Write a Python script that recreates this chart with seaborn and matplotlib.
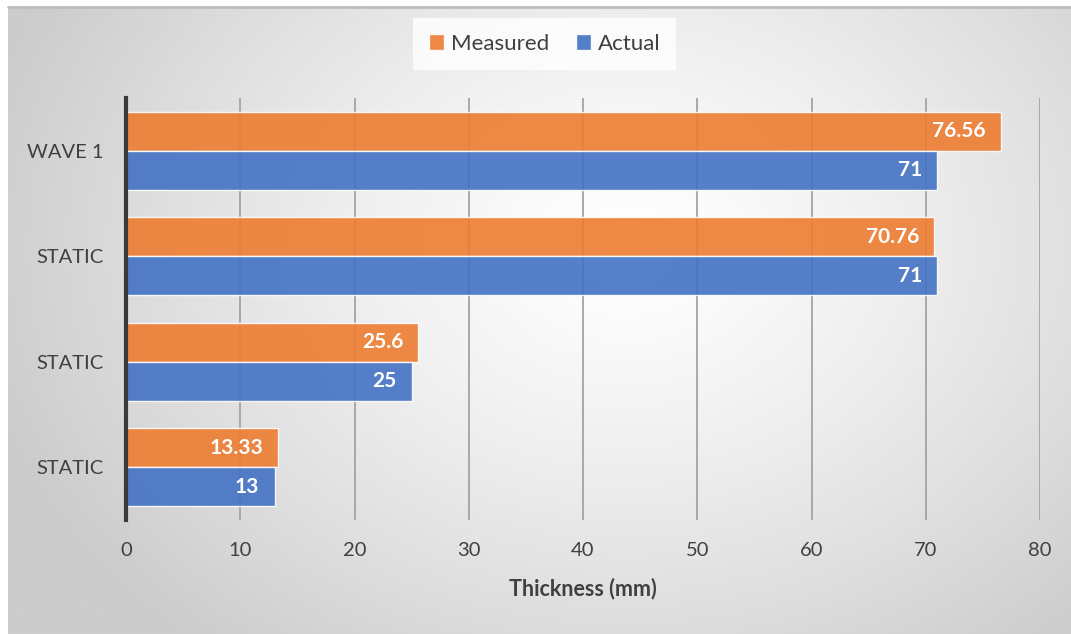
import numpy as np
import pandas as pd
import matplotlib
matplotlib.use("Agg")
import matplotlib.pyplot as plt
import seaborn as sns

# Sample thickness data
samples = ["WAVE 1", "STATIC", "STATIC", "STATIC"]
measured = [76.56, 70.76, 25.6, 13.33]
actual = [71, 71, 25, 13]
series = ["Measured", "Actual"]
x_ticks = [0, 10, 20, 30, 40, 50, 60, 70, 80]

colors = {"Measured": "#ED7D31", "Actual": "#4472C4"}
text_color = "#404040"

rows = []
for i, (m, a) in enumerate(zip(measured, actual)):
    rows.append({"row": i, "series": "Measured", "value": m})
    rows.append({"row": i, "series": "Actual", "value": a})
df = pd.DataFrame(rows)

sns.set_theme(style="white")
plt.rcParams["font.family"] = ["Lato", "DejaVu Sans"]

W, H = 1071, 634
fig = plt.figure(figsize=(W / 100, H / 100), dpi=100)
fig.patch.set_facecolor("white")

# Radial gradient backdrop for the chart area
bg_left, bg_top = 8 / W, 7 / H
bg = fig.add_axes([bg_left, 0, 1 - bg_left, 1 - bg_top], zorder=-10)
ny, nx = 300, 500
yy, xx = np.mgrid[0:ny, 0:nx]
cx, cy = 0.58 * nx, 0.38 * ny
r = np.sqrt(((xx - cx) / nx) ** 2 + ((yy - cy) / ny * 0.75) ** 2)
r = np.clip(r / 0.62, 0, 1)
shade = 1.0 - 0.2 * r ** 1.3
bg.imshow(np.dstack([shade, shade, shade]), aspect="auto", extent=[0, 1, 0, 1],
          interpolation="bilinear")
bg.plot([0, 1], [1, 1], color="#bdbdbd", lw=2, transform=bg.transAxes, clip_on=False)
bg.set_axis_off()

ax = fig.add_axes([126 / W, 1 - 520 / H, (1040 - 126) / W, (520 - 98) / H])
ax.set_facecolor((1, 1, 1, 0))

sns.barplot(data=df, x="value", y="row", hue="series", orient="h",
            palette=colors, hue_order=series, width=0.74, ax=ax,
            edgecolor=(1, 1, 1, 0.6), linewidth=1.0, alpha=0.9,
            saturation=1, legend=False, zorder=3)

ax.set_xlim(0, 80)
ax.set_ylim(3.5, -0.5)
ax.set_xticks(x_ticks)
ax.set_xticklabels([str(t) for t in x_ticks], fontsize=14.5, color=text_color)
ax.set_yticks(range(len(samples)))
ax.set_yticklabels(samples, fontsize=14.5, color=text_color)
ax.tick_params(axis="both", length=0)
ax.tick_params(axis="x", pad=16)
ax.tick_params(axis="y", pad=16)
ax.set_ylabel("")
ax.set_xlabel("Thickness (mm)", fontsize=15.5, fontweight="bold", color=text_color,
              labelpad=13)

ax.grid(axis="x", color="#a3a3a3", linewidth=1.3, zorder=0)
ax.grid(axis="y", visible=False)
ax.set_axisbelow(True)
for side in ["top", "right", "bottom"]:
    ax.spines[side].set_visible(False)
ax.spines["left"].set_color("#3a3a3a")
ax.spines["left"].set_linewidth(3)
ax.spines["left"].set_zorder(5)

# Value labels inside the bar ends
for container, vals in zip(ax.containers, [measured, actual]):
    for bar, v in zip(container, vals):
        y = bar.get_y() + bar.get_height() / 2
        ax.annotate(f"{v:g}", xy=(v, y), xytext=(-11, 0), textcoords="offset points",
                    ha="right", va="center", color="white", fontsize=15,
                    fontweight="bold", zorder=6)

handles = [plt.Rectangle((0, 0), 1, 1, facecolor=colors[s], alpha=0.9) for s in series]
leg = fig.legend(handles, series, loc="center", bbox_to_anchor=(544.5 / W, 1 - 44 / H),
                 ncol=2, frameon=True, fontsize=16, handlelength=0.7, handleheight=0.7,
                 handletextpad=0.3, columnspacing=1.2, borderpad=0.7, fancybox=False)
leg.get_frame().set_facecolor((1, 1, 1, 0.55))
leg.get_frame().set_edgecolor("none")
for t in leg.get_texts():
    t.set_color(text_color)

fig.savefig("out.png", dpi=100)
